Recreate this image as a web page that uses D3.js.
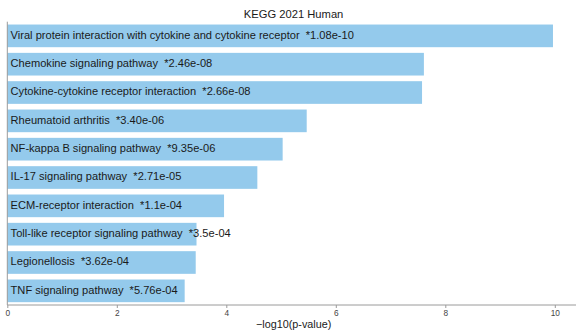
<!DOCTYPE html>
<html>
<head>
<meta charset="utf-8">
<script src="https://cdn.jsdelivr.net/npm/d3@7"></script>
<style>
  html, body { margin: 0; padding: 0; background: #fff; }
  svg { display: block; }
  text { font-family: "Liberation Sans", Arial, sans-serif; }
</style>
</head>
<body>
<svg id="chart" width="576" height="332"></svg>
<script>
// KEGG 2021 Human enrichment terms and their p-values
const terms = [
  "Viral protein interaction with cytokine and cytokine receptor",
  "Chemokine signaling pathway",
  "Cytokine-cytokine receptor interaction",
  "Rheumatoid arthritis",
  "NF-kappa B signaling pathway",
  "IL-17 signaling pathway",
  "ECM-receptor interaction",
  "Toll-like receptor signaling pathway",
  "Legionellosis",
  "TNF signaling pathway"
];
const pValueLabels = [
  "1.08e-10", "2.46e-08", "2.66e-08", "3.40e-06", "9.35e-06",
  "2.71e-05", "1.1e-04", "3.5e-04", "3.62e-04", "5.76e-04"
];
const xTicks = [0, 2, 4, 6, 8, 10];

const rows = terms.map((t, i) => ({
  term: t,
  label: pValueLabels[i],
  score: -Math.log10(+pValueLabels[i])
}));

const svg = d3.select("#chart");
const plotLeft = 7.3, plotRight = 581, plotTop = 21.7, plotBottom = 305;

const x = d3.scaleLinear().domain([0, 10]).range([plotLeft, plotLeft + 547.5]);
const y = d3.scaleBand()
  .domain(terms)
  .range([plotTop, plotBottom])
  .paddingInner(0.2)
  .paddingOuter(0.1);

// bars
svg.append("g").selectAll("rect")
  .data(rows)
  .enter().append("rect")
  .attr("x", x(0))
  .attr("y", d => y(d.term))
  .attr("width", d => x(d.score) - x(0))
  .attr("height", y.bandwidth())
  .attr("fill", "#94caec");

// term name and p-value inside each bar
svg.append("g").selectAll("text")
  .data(rows)
  .enter().append("text")
  .attr("x", x(0) + 3.3)
  .attr("y", d => y(d.term) + y.bandwidth() / 2)
  .attr("dy", "0.25em")
  .attr("font-size", 11.1)
  .attr("fill", "#1a1a1a")
  .attr("xml:space", "preserve")
  .text(d => d.term + "  *" + d.label);

// left spine
svg.append("line")
  .attr("x1", plotLeft).attr("x2", plotLeft)
  .attr("y1", plotTop).attr("y2", plotBottom)
  .attr("stroke", "#9a9a9a").attr("stroke-width", 1);

// x axis
const xAxis = svg.append("g")
  .attr("transform", `translate(0,${plotBottom})`)
  .call(d3.axisBottom(x).tickValues(xTicks).tickSize(3).tickPadding(2).tickSizeOuter(0));
xAxis.select(".domain")
  .attr("d", `M${plotLeft},0H${plotRight}`)
  .attr("stroke", "#9a9a9a");
xAxis.selectAll(".tick line").attr("stroke", "#9a9a9a");
xAxis.selectAll(".tick text")
  .attr("font-size", 8.3)
  .attr("fill", "#444")
  .style("font-family", "'Liberation Sans', Arial, sans-serif");

// axis title
svg.append("text")
  .attr("x", 293.7).attr("y", 327.5)
  .attr("text-anchor", "middle")
  .attr("font-size", 10.8)
  .attr("fill", "#1a1a1a")
  .text("\u2212log10(p-value)");

// chart title
svg.append("text")
  .attr("x", 293.6).attr("y", 18.3)
  .attr("text-anchor", "middle")
  .attr("font-size", 11.2)
  .attr("fill", "#1a1a1a")
  .text("KEGG 2021 Human");
</script>
</body>
</html>
